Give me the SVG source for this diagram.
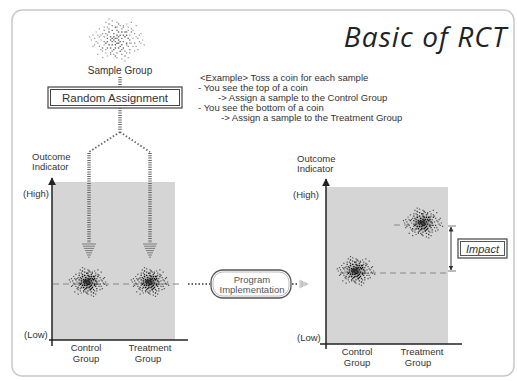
<svg xmlns="http://www.w3.org/2000/svg" xmlns:xlink="http://www.w3.org/1999/xlink" width="517" height="381" viewBox="0 0 517 381">
<style>
text{font-family:"Liberation Sans",Arial,sans-serif;fill:#333;font-size:9.5px}
.c{text-anchor:middle}
.title{font-family:"Open Sans","Liberation Sans",sans-serif;font-style:italic;font-size:28px;letter-spacing:1.1px;fill:#222}
.chart{fill:#d5d5d5}
.axis{stroke:#222;stroke-width:1.5;fill:none}
.vdot{stroke:#666;stroke-width:3.5;stroke-dasharray:1 1.3;fill:none}
.ddot{stroke:#666;stroke-width:1.8;stroke-dasharray:1.5 2;fill:none}
.dash{stroke:#888;stroke-width:1.2;stroke-dasharray:6 4;fill:none}
.box{fill:#fff;stroke:#444;stroke-width:1.2}
.lad{stroke:#666;stroke-width:0.8;fill:none}
.d1{stroke:#111;stroke-width:1.4;stroke-linecap:square;fill:none}
.d2{stroke:#333;stroke-width:1.3;stroke-linecap:square;fill:none}
.d3{stroke:#555;stroke-width:1.2;stroke-linecap:square;fill:none}
</style>
<defs>
<marker id="arr" viewBox="0 0 10 10" refX="9" refY="5" markerWidth="8" markerHeight="8" markerUnits="userSpaceOnUse" orient="auto"><path d="M0 0L10 5L0 10z" fill="#222"/></marker>
<marker id="sarr" viewBox="0 0 10 10" refX="9" refY="5" markerWidth="5" markerHeight="5" markerUnits="userSpaceOnUse" orient="auto-start-reverse"><path d="M0 0L10 5L0 10z" fill="#333"/></marker>
<radialGradient id="blob"><stop offset="0" stop-color="#222" stop-opacity="0.7"/><stop offset="1" stop-color="#555" stop-opacity="0"/></radialGradient>
<g id="dots">
<path class="d1" vector-effect="non-scaling-stroke" d="M-1 -1h0M1 0h0M0 2h0M-3 1h0M2 -3h0M4 1h0M-2 -4h0M3 3h0M-4 -2h0M0 -6h0M5 -2h0M-5 3h0M1 5h0M-1 3h0M2 1h0M-3 -1h0M6 2h0M-6 -1h0M0 -3h0M3 -5h0M-2 6h0M4 5h0M-4 5h0M5 -5h0M-5 -5h0M1 -2h0M-1 -8h0M7 -1h0M-7 2h0M2 7h0M-2 0h0M0 -1h0M1 2h0M-1 1h0M3 -1h0M-3 3h0M2 4h0M-2 -2h0M4 -3h0M-4 0h0M1 -5h0M-1 5h0M6 -3h0M-6 1h0M3 6h0M-3 -6h0"/>
<path class="d2" vector-effect="non-scaling-stroke" d="M-8 1h0M8 0h0M-6 5h0M6 -5h0M-5 -7h0M5 7h0M0 8h0M0 -8h0M-7 -4h0M7 4h0M3 -7h0M-3 7h0M-8 -2h0M8 2h0M4 -8h0M-4 8h0M-9 5h0M9 -5h0M-5 -10h0M5 10h0M-11 -2h0M11 2h0M-6 -3h0M6 3h0M-3 -9h0M3 9h0M1 -10h0M-1 10h0M-8 -6h0M8 6h0"/>
<path class="d3" vector-effect="non-scaling-stroke" d="M-10 -3h0M10 4h0M-12 2h0M12 -2h0M-9 7h0M9 -7h0M-8 -8h0M8 8h0M-14 -1h0M14 1h0M-11 -7h0M11 7h0M-6 10h0M6 -10h0M0 11h0M0 -11h0M-3 -12h0M3 12h0M-15 4h0M15 -4h0M-13 -5h0M13 6h0M-9 11h0M9 -11h0M-16 0h0M16 0h0M-4 9h0M4 -9h0M-11 4h0M11 -4h0M-7 -11h0M7 11h0M-17 -2h0M17 3h0M-12 9h0M12 -9h0M5 13h0M-5 -13h0M-10 0h0M10 -1h0M-8 3h0M8 -3h0M-7 6h0M7 -6h0M-9 -4h0M9 2h0M-2 9h0M2 -9h0M-6 -8h0M6 8h0M-10 6h0M10 -6h0M-14 3h0M14 -3h0M-12 -3h0M12 4h0M-7 8h0M7 -8h0M-15 -3h0M15 2h0M-13 1h0M13 -1h0"/>
</g>
<g id="cluster"><ellipse rx="10" ry="8" fill="url(#blob)"/><use xlink:href="#dots"/></g>
<g id="ladder" class="lad"><path d="M-7 0h14M-6 2.2h12M-5 4.4h10M-4 6.6h8M-3 8.8h6M-2 11h4M-1 13.2h2"/></g>
</defs>

<rect x="12" y="10" width="502" height="366" rx="10" fill="#fff" stroke="#c8c8c8" stroke-width="1.5"/>

<g id="title"><text class="title" x="507" y="47" text-anchor="end">Basic of RCT</text></g>

<g id="sample-group">
<use xlink:href="#dots" transform="translate(117,40) scale(1.6)" opacity="0.6"/>
<text class="c" x="120" y="74" style="font-size:10px">Sample Group</text>
</g>

<g id="random-assignment">
<rect class="box" x="48" y="87" width="134" height="21"/>
<rect x="50.5" y="89.5" width="129" height="16" fill="none" stroke="#444" stroke-width="1"/>
<text class="c" x="115" y="101.5" style="font-size:11.5px">Random Assignment</text>
</g>

<g id="example-text">
<text x="200" y="81">&lt;Example&gt; Toss a coin for each sample</text>
<text x="198" y="91">- You see the top of a coin</text>
<text x="218" y="100.5">-&gt; Assign a sample to the Control Group</text>
<text x="198" y="110.5">- You see the bottom of a coin</text>
<text x="221" y="120.5">-&gt; Assign a sample to the Treatment Group</text>
</g>

<g id="left-chart">
<rect class="chart" x="52" y="182" width="123" height="158"/>
<line class="dash" x1="53" y1="284" x2="182" y2="284"/>
<use xlink:href="#cluster" transform="translate(88,282) scale(1.1)"/>
<use xlink:href="#cluster" transform="translate(150,282) scale(1.1)"/>
<line class="axis" x1="52" y1="346" x2="52" y2="178" marker-end="url(#arr)"/>
<line class="axis" x1="49" y1="340" x2="188" y2="340"/>
<text x="32" y="160">Outcome</text>
<text x="32" y="170">Indicator</text>
<text x="23" y="197">(High)</text>
<text x="24" y="338">(Low)</text>
<text class="c" x="86" y="351">Control</text>
<text class="c" x="86" y="362">Group</text>
<text class="c" x="150" y="351">Treatment</text>
<text class="c" x="148" y="362">Group</text>
</g>

<g id="program-implementation">
<rect x="211" y="270" width="80" height="28" rx="12" fill="#fff" stroke="#555" stroke-width="1.3"/>
<rect x="213" y="272" width="76" height="24" rx="10" fill="none" stroke="#aaa" stroke-width="0.8"/>
<text class="c" x="252" y="283" style="fill:#555">Program</text>
<text class="c" x="252" y="293" style="fill:#555">Implementation</text>
</g>

<g id="right-chart">
<rect class="chart" x="326" y="187" width="122" height="157"/>
<line class="dash" x1="340" y1="273" x2="447" y2="273"/>
<line class="dash" x1="394" y1="225" x2="410" y2="225"/>
<use xlink:href="#cluster" transform="translate(356,271) scale(1.1)"/>
<use xlink:href="#cluster" transform="translate(423,223) scale(1.15)"/>
<line class="axis" x1="326" y1="349" x2="326" y2="179" marker-end="url(#arr)"/>
<line class="axis" x1="320" y1="344" x2="462" y2="344"/>
<text x="297" y="162">Outcome</text>
<text x="297" y="172">Indicator</text>
<text x="293" y="198">(High)</text>
<text x="297" y="341">(Low)</text>
<text class="c" x="357" y="355">Control</text>
<text class="c" x="357" y="366">Group</text>
<text class="c" x="422" y="355">Treatment</text>
<text class="c" x="418" y="366">Group</text>
</g>

<g id="impact">
<rect class="box" x="458" y="239" width="49" height="19"/>
<rect x="460.5" y="241.5" width="44" height="14" fill="none" stroke="#444" stroke-width="0.9"/>
<text class="c" x="482.5" y="252.5" style="font-size:11px;font-style:italic">Impact</text>
</g>

<g id="connectors">
<line class="vdot" x1="120" y1="77" x2="120" y2="87"/>
<line class="vdot" x1="120" y1="108" x2="120" y2="131"/>
<path class="ddot" d="M120 132L89 152M120 132L150 152"/>
<line class="vdot" x1="89" y1="153" x2="89" y2="243"/>
<line class="vdot" x1="150" y1="153" x2="150" y2="243"/>
<use xlink:href="#ladder" x="89" y="244"/>
<use xlink:href="#ladder" x="150" y="244"/>
<line class="ddot" x1="188" y1="284" x2="210" y2="284"/>
<line class="ddot" x1="292" y1="284" x2="299" y2="284"/>
<use xlink:href="#ladder" transform="translate(300,284) rotate(-90) scale(0.6)"/>
<line x1="451" y1="227" x2="451" y2="270" stroke="#333" stroke-width="1" marker-start="url(#sarr)" marker-end="url(#sarr)"/>
<path d="M448 226h8M448 271h8" stroke="#555" stroke-width="0.8"/>
</g>
</svg>
